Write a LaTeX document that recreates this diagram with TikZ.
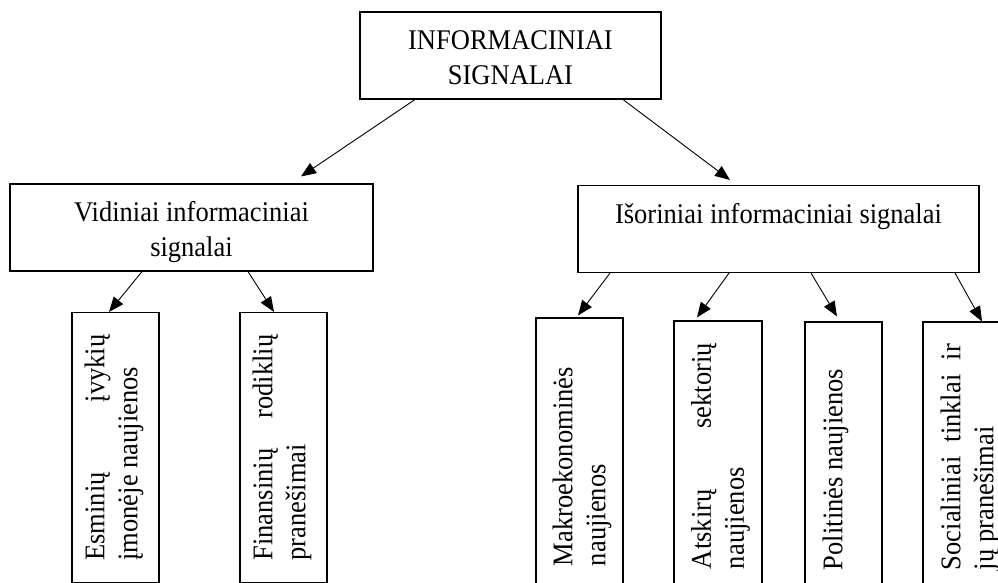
\documentclass[tikz,border=0pt]{standalone}
\usepackage{fontspec}
\setmainfont{Liberation Serif}[FakeStretch=0.93]
\usepackage{graphicx}
\usetikzlibrary{arrows.meta}

% text of the lying boxes and of the standing boxes
\newcommand{\boxlines}[2]{\parbox[c][60pt][t]{#1}{\centering\strut #2}}
\newcommand{\vertlines}[2][58pt]{\rotatebox{90}{\parbox[c][#1][t]{226pt}{#2}}}

\begin{document}
\begin{tikzpicture}[x=1pt, y=-1pt,
  box/.style={draw, line width=1.1pt, inner sep=0pt},
  wide/.style={box, minimum height=87pt, font=\fontsize{28.5}{34.5}\selectfont},
  tall/.style={box, minimum height=270pt, font=\fontsize{28.5}{33}\selectfont},
  arr/.style={-{Triangle[length=15pt,width=12pt]}, line width=0.9pt}]
  \useasboundingbox (0,0) rectangle (998,583);
  \clip (0,0) rectangle (998,583);
  % Top level
  \node[wide, minimum width=301pt] (top) at (510.5,55.5)
    {\boxlines{280pt}{INFORMACINIAI\\SIGNALAI}};
  % Second level
  \node[wide, minimum width=363pt] (vid) at (191.5,227.5)
    {\boxlines{340pt}{Vidiniai informaciniai\\signalai}};
  \node[wide, minimum width=401pt] (isor) at (778.5,229)
    {\boxlines{380pt}{Išoriniai informaciniai signalai}};
  % Internal signals
  \node[tall, minimum width=87pt] (esm) at (115.5,447.5)
    {\vertlines[62pt]{Esminių \hfill įvykių\\ įmonėje naujienos}};
  \node[tall, minimum width=87pt] (fin) at (283.5,447.5)
    {\vertlines[62pt]{Finansinių \hfill rodiklių\\ pranešimai}};
  % External signals
  \node[tall, minimum width=87pt] (makro) at (579.5,453)
    {\vertlines[54pt]{Makroekonominės\\ naujienos}};
  \node[tall, minimum width=88pt] (atsk) at (718,456)
    {\vertlines[54pt]{Atskirų \hfill sektorių\\ naujienos}};
  \node[tall, minimum width=77pt] (polit) at (843.5,457)
    {\vertlines[42pt]{Politinės naujienos}};
  \node[tall, minimum width=87pt] (soc) at (966.5,457)
    {\vertlines[52pt]{Socialiniai \hfill tinklai \hfill ir\\ jų pranešimai}};
  % Arrows
  \draw[arr] ([xshift=-95.5pt]top.south) -- ([xshift=109.5pt,yshift=7pt]vid.north);
  \draw[arr] ([xshift=112.5pt]top.south) -- ([xshift=-48.5pt,yshift=5pt]isor.north);
  \draw[arr] ([xshift=-49.5pt]vid.south) -- ([xshift=-6.5pt]esm.north);
  \draw[arr] ([xshift=56.5pt]vid.south) -- ([xshift=-9.5pt]fin.north);
  \draw[arr] ([xshift=-168.5pt]isor.south) -- ([xshift=-1.5pt,yshift=2pt]makro.north);
  \draw[arr] ([xshift=-49.5pt]isor.south) -- ([xshift=-21pt,yshift=3pt]atsk.north);
  \draw[arr] ([xshift=32.5pt]isor.south) -- ([xshift=-6.5pt,yshift=5pt]polit.north);
  \draw[arr] ([xshift=176.5pt]isor.south) -- ([xshift=15.5pt]soc.north);
\end{tikzpicture}
\end{document}
